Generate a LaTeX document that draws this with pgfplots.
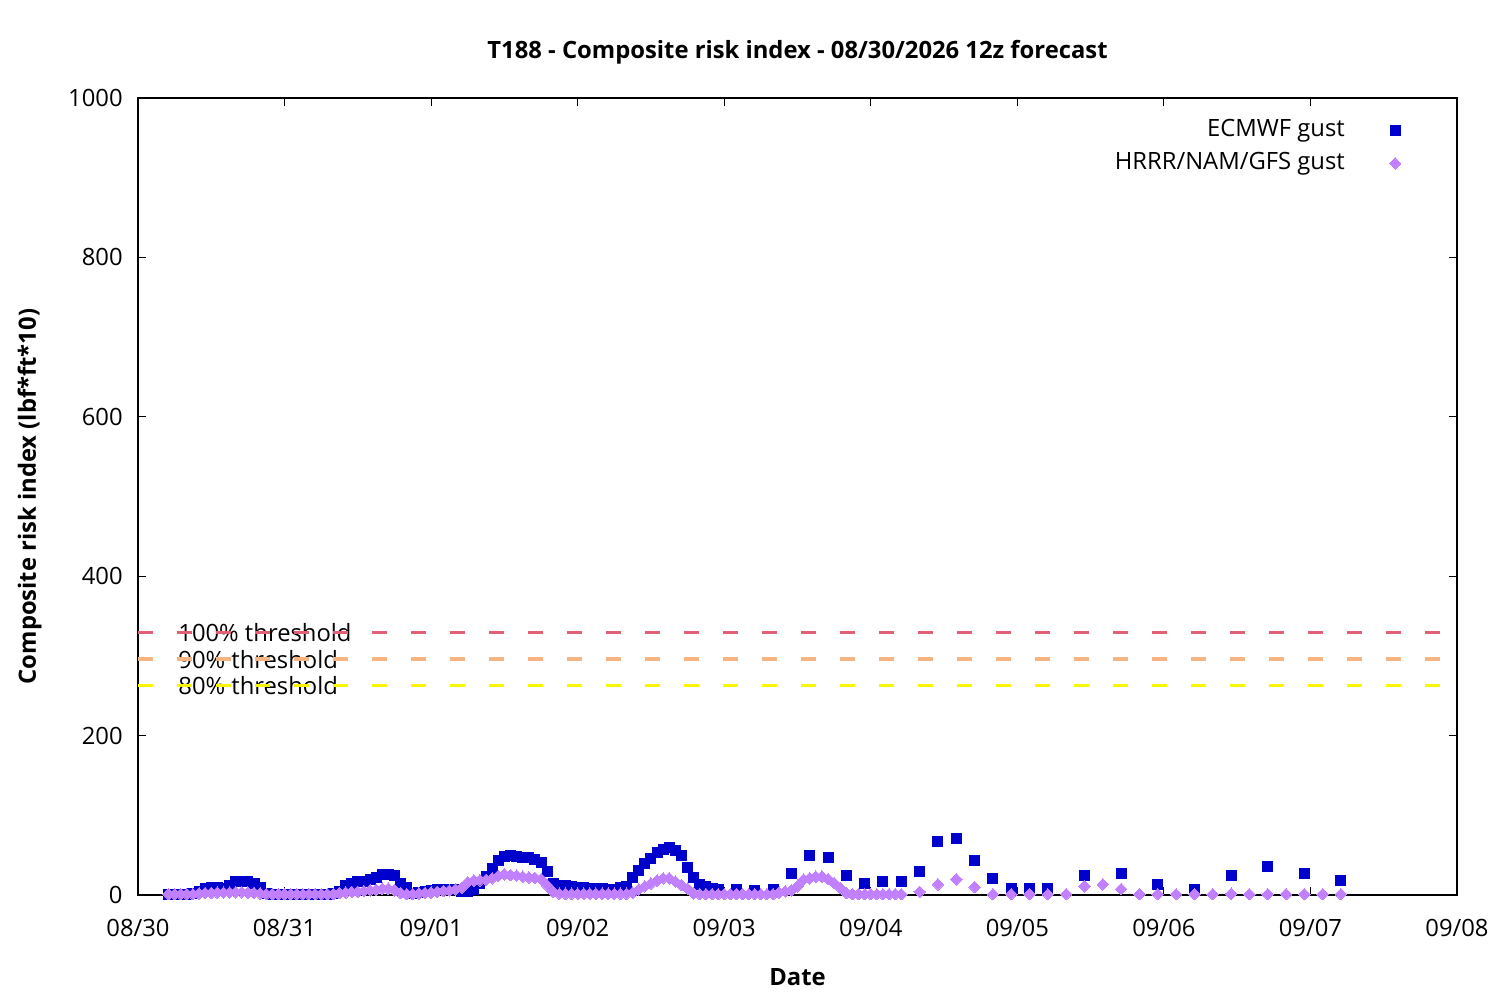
\documentclass[border=0pt]{standalone}
\usepackage{pgfplots}
\pgfplotsset{compat=1.18}
\usepackage{fontspec}
\setmainfont{Open Sans}
\newcommand\fs{\fontsize{11.9}{14}\selectfont}
\definecolor{ecblue}{RGB}{0,0,204}
\definecolor{gfspurple}{RGB}{192,128,255}
\definecolor{thred}{RGB}{224,96,118}
\definecolor{thorange}{RGB}{245,180,130}
\definecolor{thyellow}{RGB}{250,245,0}
\begin{document}
\begin{tikzpicture}
\path[use as bounding box] (0pt,0pt) rectangle (750pt,500pt);
\begin{axis}[
  at={(69pt,52.5pt)}, anchor=south west,
  scale only axis, width=659.5pt, height=398.5pt,
  xmin=0, xmax=216, ymin=0, ymax=1000,
  xtick={0,24,...,216},
  xticklabels={08/30,08/31,09/01,09/02,09/03,09/04,09/05,09/06,09/07,09/08},
  ytick={0,200,...,1000},
  minor tick num=0,
  tick align=inside, major tick length=4pt,
  axis line style={line width=0.6pt},
  every tick/.style={black, line width=0.6pt},
  /pgf/number format/assume math mode=true,
  /pgf/number format/1000 sep={},
  ticklabel style={font=\fs},
  xticklabel style={anchor=base, yshift=-21pt},
  yticklabel style={anchor=east, inner sep=0pt, xshift=-7.5pt},
  title={T188 - Composite risk index - 08/30/2026 12z forecast},
  title style={font=\fs\bfseries, at={(0.5,1)}, anchor=base, yshift=13.5pt},
  xlabel={Date},
  xlabel style={font=\fs\bfseries, at={(0.5,0)}, anchor=base, yshift=-45.5pt},
  ylabel={Composite risk index (lbf*ft*10)},
  ylabel style={font=\fs\bfseries, at={(0,0.5)}, anchor=base, yshift=51pt},
  legend style={at={(rel axis cs:1,1)}, anchor=north east, xshift=-19.5pt, yshift=-8pt,
    draw=none, fill=none, font=\fs,
    nodes={inner sep=0pt, text height=9pt, text depth=3pt},
    row sep=4.5pt,
    /tikz/every odd column/.append style={column sep=17pt}},
  legend cell align=right,
  legend plot pos=right,
  legend image code/.code={\path (0pt,0pt) (16pt,0pt); \draw[#1] plot coordinates {(8pt,0pt)};},
]
\addplot[only marks, mark=square*, mark size=2.5pt, color=ecblue, mark options={draw=ecblue, fill=ecblue, line width=0pt}] coordinates {
(5,1)(6,1)(7,1)(8,1)(9,2)(10,5)(11,8)(12,9)(13,9)(14,8)(15,12.5)(16,16.5)(17,16.5)(18,16.5)(19,15)(20,10)(21,2.5)(22,1)(23,1)(24,1)(25,1)(26,1)(27,1)(28,1)(29,1)(30,1)(31,1)(32,1.5)(33,5)(34,11.5)(35,14.5)(36,16.5)(37,17.5)(38,19)(39,22)(40,26)(41,26)(42,24)(43,14.5)(44,9.5)(45,2.5)(46,3)(47,5)(48,6)(49,6.3)(50,6.3)(51,6.3)(52,6.3)(53,5)(54,4.5)(55,7.5)(56,14.5)(57,23)(58,33)(59,43)(60,48)(61,50)(62,48)(63,47.5)(64,47)(65,44)(66,41)(67,29)(68,14.5)(69,12.5)(70,12)(71,11)(72,9.5)(73,9)(74,8.5)(75,8.5)(76,8.5)(77,7)(78,6.5)(79,9)(80,10.5)(81,21.5)(82,31)(83,40)(84,46)(85,53.5)(86,57.5)(87,59)(88,56)(89,49)(90,35)(91,22)(92,13.5)(93,10.5)(94,8.5)(95,6.5)
(98,7.5)(101,6)(104,7.5)(107,27)(110,50)(113,47)(116,24)(119,15)(122,17)(125,17)(128,30)(131,67)(134,71)(137,43.5)(140,21)(143,8.5)(146,8.5)(149,8.5)
(155,24.7)(161,27)(167,13.4)(173,7.5)(179,24.7)(185,36)(191,27)(197,18.4)
};
\addlegendentry{ECMWF gust}
\addplot[only marks, mark=square*, mark size=2.05pt, color=gfspurple, mark options={rotate=45, draw=gfspurple, fill=gfspurple, line width=0pt}] coordinates {
(5,1)(6,1)(7,1)(8,1)(9,1)(10,2)(11,2.5)(12,2.5)(13,3)(14,3)(15,3)(16,3.5)(17,3.5)(18,3)(19,2.5)(20,2)(21,1)(22,1)(23,1)(24,1)(25,1)(26,1)(27,1)(28,1)(29,1)(30,1)(31,1)(32,1)(33,2.5)(34,3)(35,4)(36,4)(37,5)(38,6)(39,6.5)(40,8)(41,8)(42,6)(43,2.5)(44,1)(45,1)(46,2)(47,2.5)(48,3)(49,4)(50,5)(51,5.5)(52,7)(53,9)(54,16)(55,18)(56,18.5)(57,19)(58,21)(59,24)(60,26)(61,25)(62,24.5)(63,23)(64,22)(65,21.5)(66,20)(67,12)(68,4)(69,1.5)(70,1.5)(71,1.5)(72,1.5)(73,1.5)(74,1.5)(75,1.5)(76,1.5)(77,1.5)(78,1.5)(79,1.5)(80,1.5)(81,3)(82,7)(83,11)(84,14.5)(85,18)(86,21)(87,21)(88,17)(89,12.5)(90,8)(91,2)(92,1)(93,1)(94,1)(95,1)(96,1)(97,1)(98,1)(99,1)(100,1)(101,1)(102,1)(103,1)(104,1)(105,3)(106,4.5)(107,6)(108,11)(109,19.5)(110,21)(111,23)(112,23)(113,20)(114,15)(115,9)(116,2.5)(117,1)(118,1)(119,1)(120,1)(121,1)(122,1)(123,1)(124,1)(125,1)
(128,4)(131,13.4)(134,19.7)(137,10)(140,1)(143,1)(146,1)(149,1)(152,1)(155,11)(158,13.4)(161,7.5)(164,1)(167,1)(170,1)(173,1)(176,1)(179,1.5)(182,1)(185,1)(188,1)(191,1)(194,1)(197,1)
};
\addlegendentry{HRRR/NAM/GFS gust}
\node[font=\fs, anchor=west, inner sep=0pt] at (axis cs:6.55,329) {100\% threshold};
\node[font=\fs, anchor=west, inner sep=0pt] at (axis cs:6.55,296) {90\% threshold};
\node[font=\fs, anchor=west, inner sep=0pt] at (axis cs:6.55,263) {80\% threshold};
\addplot[thred, line width=1.6pt, dash pattern=on 7.5pt off 12pt, forget plot] coordinates {(0,329)(216,329)};
\addplot[thorange, line width=1.6pt, dash pattern=on 7.5pt off 12pt, forget plot] coordinates {(0,296)(216,296)};
\addplot[thyellow, line width=1.6pt, dash pattern=on 7.5pt off 12pt, forget plot] coordinates {(0,263)(216,263)};
\end{axis}
\end{tikzpicture}
\end{document}
